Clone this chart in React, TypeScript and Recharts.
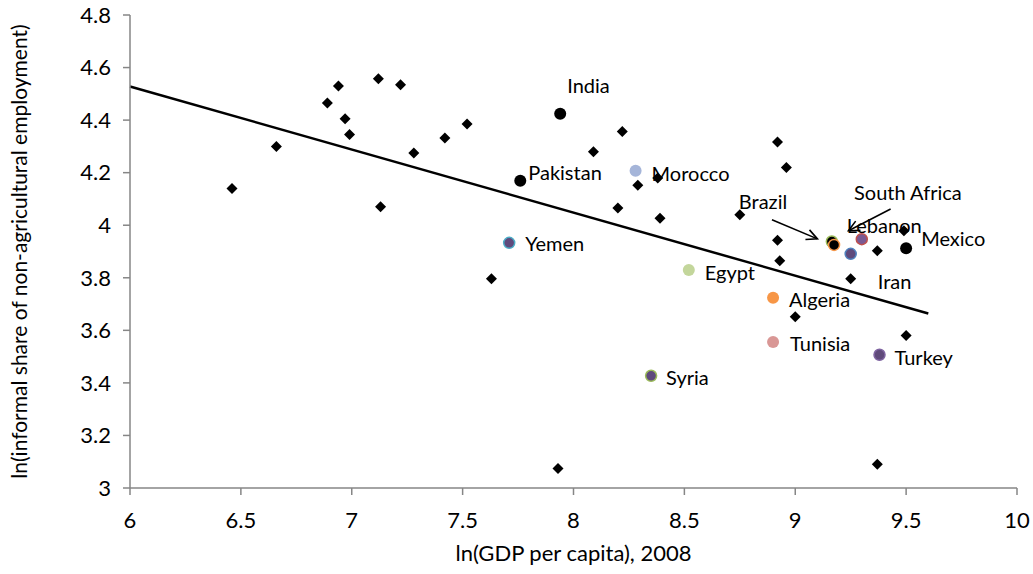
import { ScatterChart, Scatter, XAxis, YAxis, ReferenceLine, Label } from 'recharts';

const FONT = 'Lato, "Open Sans", sans-serif';
const AXIS_COLOR = '#868686';

const xTicks = [6, 6.5, 7, 7.5, 8, 8.5, 9, 9.5, 10];
const yTicks = [3, 3.2, 3.4, 3.6, 3.8, 4, 4.2, 4.4, 4.6, 4.8];

// other countries (diamonds)
const others = [
  { x: 6.46, y: 4.14 }, { x: 6.66, y: 4.3 }, { x: 6.89, y: 4.465 }, { x: 6.94, y: 4.53 },
  { x: 6.97, y: 4.405 }, { x: 6.99, y: 4.345 }, { x: 7.12, y: 4.557 }, { x: 7.13, y: 4.07 },
  { x: 7.22, y: 4.535 }, { x: 7.28, y: 4.275 }, { x: 7.42, y: 4.332 }, { x: 7.52, y: 4.385 },
  { x: 7.63, y: 3.796 }, { x: 7.93, y: 3.074 }, { x: 8.09, y: 4.28 }, { x: 8.2, y: 4.066 },
  { x: 8.22, y: 4.357 }, { x: 8.29, y: 4.152 }, { x: 8.38, y: 4.18 }, { x: 8.39, y: 4.027 },
  { x: 8.75, y: 4.04 }, { x: 8.92, y: 4.317 }, { x: 8.96, y: 4.22 }, { x: 8.92, y: 3.943 },
  { x: 8.93, y: 3.865 }, { x: 9.49, y: 3.979 }, { x: 9.37, y: 3.903 }, { x: 9.25, y: 3.796 },
  { x: 9.0, y: 3.652 }, { x: 9.5, y: 3.58 }, { x: 9.37, y: 3.09 },
];

// labelled countries
const countries = [
  { name: 'India', x: 7.94, y: 4.424 },
  { name: 'Pakistan', x: 7.76, y: 4.169 },
  { name: 'Morocco', x: 8.28, y: 4.207 },
  { name: 'Yemen', x: 7.71, y: 3.933 },
  { name: 'Egypt', x: 8.52, y: 3.83 },
  { name: 'Algeria', x: 8.9, y: 3.724 },
  { name: 'Tunisia', x: 8.9, y: 3.556 },
  { name: 'Syria', x: 8.35, y: 3.427 },
  { name: 'Turkey', x: 9.38, y: 3.507 },
  { name: 'Iran', x: 9.25, y: 3.891 },
  { name: 'Lebanon', x: 9.3, y: 3.947 },
  { name: 'Brazil', x: 9.165, y: 3.938 },
  { name: 'South Africa', x: 9.175, y: 3.925 },
  { name: 'Mexico', x: 9.5, y: 3.912 },
];

const trend = [
  { x: 6, y: 4.528 },
  { x: 9.6, y: 3.664 },
];

const brazilArrow = [
  { x: 8.895, y: 4.021 },
  { x: 9.1, y: 3.948 },
];
const southAfricaArrow = [
  { x: 9.43, y: 4.062 },
  { x: 9.24, y: 3.979 },
];

// marker look + label offset (px, from point centre)
const style: Record<string, { fill: string; stroke?: string; r: number; dx: number; dy: number }> = {
  India: { fill: '#000', r: 6, dx: 7, dy: -29 },
  Pakistan: { fill: '#000', r: 6, dx: 8, dy: -9 },
  Morocco: { fill: '#a5b5d9', r: 6, dx: 16, dy: 2 },
  Yemen: { fill: '#5f4a7c', stroke: '#4bacc6', r: 5.5, dx: 16, dy: 0 },
  Egypt: { fill: '#c3d69b', r: 6, dx: 16, dy: 2 },
  Algeria: { fill: '#f79646', r: 6, dx: 16, dy: 1 },
  Tunisia: { fill: '#d99795', r: 6, dx: 17, dy: 1 },
  Syria: { fill: '#5f4a7c', stroke: '#9bbb59', r: 5.5, dx: 15, dy: 1 },
  Turkey: { fill: '#604a7b', stroke: '#7f64a1', r: 5.5, dx: 15, dy: 2 },
  Iran: { fill: '#5f4a7c', stroke: '#4f81bd', r: 5.5, dx: 27, dy: 27 },
  Lebanon: { fill: '#7a5a94', stroke: '#c0504d', r: 5.5, dx: -15, dy: -14 },
  Brazil: { fill: '#000', stroke: '#9bbb59', r: 5.5, dx: -93, dy: -41 },
  'South Africa': { fill: '#000', stroke: '#f79646', r: 5.5, dx: 20, dy: -53 },
  Mexico: { fill: '#000', r: 6, dx: 15, dy: -10 },
};

const Diamond = (p: any) => {
  const { cx, cy } = p;
  const h = 5.5;
  return <polygon points={`${cx},${cy - h} ${cx + h},${cy} ${cx},${cy + h} ${cx - h},${cy}`} fill="#000" />;
};

const CountryDot = (p: any) => {
  const { cx, cy, payload } = p;
  const s = style[payload.name];
  return (
    <g>
      <circle cx={cx} cy={cy} r={s.r} fill={s.fill} stroke={s.stroke ?? 'none'} strokeWidth={s.stroke ? 1.5 : 0} />
      <text
        x={cx + s.dx}
        y={cy + s.dy}
        dominantBaseline="central"
        fontSize={20}
        fontFamily={FONT}
        fill="#000"
      >
        {payload.name}
      </text>
    </g>
  );
};

const arrowShape = (p: any) => {
  const { x1, y1, x2, y2 } = p;
  const a = Math.atan2(y2 - y1, x2 - x1);
  const len = 12;
  const spread = 0.45;
  const ax = x2 - len * Math.cos(a - spread);
  const ay = y2 - len * Math.sin(a - spread);
  const bx = x2 - len * Math.cos(a + spread);
  const by = y2 - len * Math.sin(a + spread);
  return (
    <g stroke="#000" strokeWidth={1.6} fill="none">
      <line x1={x1} y1={y1} x2={x2} y2={y2} />
      <polyline points={`${ax},${ay} ${x2},${y2} ${bx},${by}`} />
    </g>
  );
};

export default function App() {
  return (
    <div style={{ position: 'absolute', left: 0, top: 0, fontFamily: FONT }}>
      <ScatterChart width={1033} height={574} margin={{ top: 15, right: 16, bottom: 0, left: 0 }}>
        <XAxis
          type="number"
          dataKey="x"
          domain={[6, 10]}
          ticks={xTicks}
          height={86}
          tickSize={7}
          tickMargin={17}
          axisLine={{ stroke: AXIS_COLOR, strokeWidth: 1.5 }}
          tickLine={{ stroke: AXIS_COLOR, strokeWidth: 1.5 }}
          tick={{ fill: '#000', fontSize: 22, fontFamily: FONT }}
        >
          <Label
            content={({ viewBox }: any) => (
              <text
                x={viewBox.x + viewBox.width / 2}
                y={viewBox.y + 64}
                textAnchor="middle"
                dominantBaseline="central"
                fontSize={22}
                fontFamily={FONT}
                fill="#000"
              >
                ln(GDP per capita), 2008
              </text>
            )}
          />
        </XAxis>
        <YAxis
          type="number"
          dataKey="y"
          domain={[3, 4.8]}
          ticks={yTicks}
          width={130}
          tickSize={7}
          tickMargin={12}
          axisLine={{ stroke: AXIS_COLOR, strokeWidth: 1.5 }}
          tickLine={{ stroke: AXIS_COLOR, strokeWidth: 1.5 }}
          tick={{ fill: '#000', fontSize: 22, fontFamily: FONT }}
        >
          <Label
            content={({ viewBox }: any) => {
              const cx = viewBox.x + 18;
              const cy = viewBox.y + viewBox.height / 2;
              return (
                <text
                  x={cx}
                  y={cy}
                  transform={`rotate(-90, ${cx}, ${cy})`}
                  textAnchor="middle"
                  dominantBaseline="central"
                  fontSize={21}
                  fontFamily={FONT}
                  fill="#000"
                >
                  ln(informal share of non-agricultural employment)
                </text>
              );
            }}
          />
        </YAxis>
        <ReferenceLine segment={trend} stroke="#000" strokeWidth={2.5} ifOverflow="visible" />
        <Scatter data={others} shape={Diamond} isAnimationActive={false} />
        <Scatter data={countries} shape={CountryDot} isAnimationActive={false} />
        <ReferenceLine segment={brazilArrow} shape={arrowShape} ifOverflow="visible" />
        <ReferenceLine segment={southAfricaArrow} shape={arrowShape} ifOverflow="visible" />
      </ScatterChart>
    </div>
  );
}
